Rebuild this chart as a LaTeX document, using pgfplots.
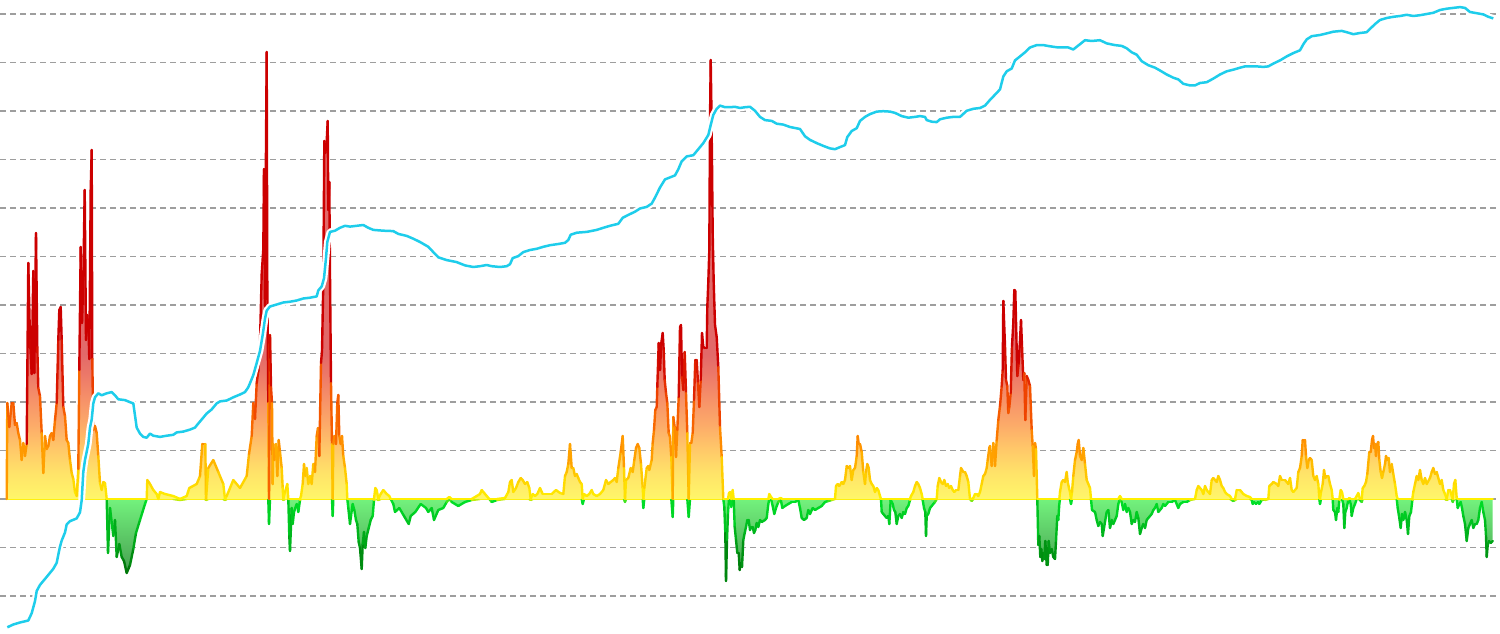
\documentclass[border=0pt]{standalone}
\usepackage{pgfplots}
\usepackage{pgfplotstable}
\pgfplotsset{compat=1.18}

% fill colours above zero (light yellow -> salmon red)
\definecolor{pf0}{RGB}{255,246,105}
\definecolor{pf1}{RGB}{255,228,105}
\definecolor{pf2}{RGB}{255,200,105}
\definecolor{pf3}{RGB}{252,170,105}
\definecolor{pf4}{RGB}{246,145,105}
\definecolor{pf5}{RGB}{236,120,105}
\definecolor{pf6}{RGB}{226,105,105}
% fill colours below zero
\definecolor{nf0}{RGB}{115,242,125}
\definecolor{nf1}{RGB}{65,150,75}
\definecolor{priceline}{RGB}{30,205,235}

% positive part spans 0..447, mapped to 25bp..75bp
\pgfdeclareverticalshading{posfill}{100bp}{color(0bp)=(pf0); color(25bp)=(pf0);
  color(27.80bp)=(pf1); color(30.59bp)=(pf2); color(33.39bp)=(pf3);
  color(36.19bp)=(pf4); color(38.98bp)=(pf5); color(41.22bp)=(pf6);
  color(75bp)=(pf6); color(100bp)=(pf6)}
\pgfdeclareverticalshading{negfill}{100bp}{color(0bp)=(nf1); color(25bp)=(nf1);
  color(75bp)=(nf0); color(100bp)=(nf0)}

\pgfplotsset{colormap={oscmap}{rgb255(0pt)=(0,95,0) rgb255(30pt)=(0,120,10)
  rgb255(60pt)=(0,170,25) rgb255(98pt)=(0,225,40) rgb255(100pt)=(255,240,0)
  rgb255(125pt)=(255,200,0) rgb255(150pt)=(255,150,0) rgb255(175pt)=(250,110,0)
  rgb255(200pt)=(240,70,0) rgb255(225pt)=(220,25,0) rgb255(245pt)=(204,0,0)
  rgb255(550pt)=(204,0,0)}}

\pgfplotstableread{
x h
6.7 0
7.3 96
9.3 72
11.7 96
13.3 96
15 74
16.7 76
18.3 66
20 59
21.7 39
23.3 56
25 43
26.7 55
28.3 236
30 159
31.7 125
33.3 228
34.3 126
36 266
37.3 152
38.3 111
40 103
41.7 66
43.3 26
45 63
46.7 50
48.3 53
50 63
51.7 66
53.3 59
55 79
56.7 96
58.3 159
59.3 189
60.7 192
61.7 159
63.3 92
65 83
66.7 59
68.3 56
70 39
71.7 26
73.3 20
75 7
76.7 3
78.3 30
79.3 129
80.7 252
82 176
83.3 219
84.7 309
86 159
87.3 184
88.7 163
89.3 140
90.7 309
91.7 349
92.3 140
93.3 69
95 73
96.7 66
98.3 43
100 16
101.7 9
103.3 17
105 16
106.7 0
108 -54
110 -9
113.3 -37
115 -21
116.7 -58
119.3 -45
121.7 -58
124 -62
126.7 -74
130 -66
133.3 -50
136 -34
140 -21
145 -5
146.7 0
147.3 19
150 15
153.3 9
156.7 5
158.3 0
160 7
165 5
173.3 3
180 -1
186.7 3
189.3 11
196.7 15
200 23
202.3 55
205.3 55
206 -1
208.3 31
213.3 39
218.3 27
223.3 15
225 -1
226.7 3
233.3 19
240 11
246.7 23
249 45
251.7 63
253.3 96
255 80
256.7 116
258.3 128
260 157
261.7 225
263.3 250
264 330
265 193
265.7 313
266.7 447
267.3 217
268.3 96
269 -25
270 164
271 112
272 96
272.7 15
273.3 55
274.3 39
276 55
277.3 23
278.7 59
280 47
281.7 31
282.7 11
283.3 -1
285 7
287.3 15
288.3 0
289.3 -37
290 -52
291.7 -9
292.7 -25
294 -13
295.3 -9
296.7 -5
298.3 -13
300 -1
301 3
302.7 15
304 35
305.3 23
306.7 31
308.3 15
310 23
311.7 15
313.3 35
315 27
316.7 63
318 71
319.3 43
321 136
322 148
323.3 217
324.3 358
325.3 346
326.7 358
327.7 378
328.3 289
329.3 317
330 225
331 116
332 55
332.7 -17
333.3 55
334.3 63
336 55
337.3 96
338.3 104
339.3 63
340.7 55
342 63
343.3 43
345 31
346.7 15
347.3 0
348.3 -9
350 -25
351 -17
352.7 -5
354.3 -11
356 -21
357.3 -25
358.7 -43
360 -49
361.7 -70
362.7 -45
364 -33
365.3 -49
366.7 -37
368.7 -29
370.7 -21
372.7 -17
374 -1
375.3 11
376.7 9
378.3 -1
380.7 5
383.3 9
386.7 5
389.3 3
390.7 0
393.3 -5
395 -13
399.3 -9
404 -17
408.7 -25
410.7 -17
415.3 -13
420.7 -5
426 -9
428.3 -13
431.7 -9
434 -21
438.3 -11
443.3 -9
446.7 -3
449.3 2
451.7 -3
458.3 -7
465 -3
471.7 -1
480 5
481.7 9
486.7 3
489.3 0
491.7 -3
497 -1
505 1
508.3 7
510 17
511.7 19
513.3 7
516 11
518.3 17
520.7 21
522.7 19
525 15
527.3 17
529.3 11
530.7 -1
532.7 5
535 3
537.3 5
540 11
542.7 5
551.7 5
556 9
560 6
563.3 5
565 23
566.7 27
568.3 35
570 55
571.7 31
573.3 31
575 23
576.7 25
578.3 21
580 17
581.7 15
582.7 -5
584 5
586.7 3
589.3 5
591.7 9
593.3 5
596.7 3
600 5
603.3 9
606 19
608.3 15
610.7 17
613.3 19
615 21
616.7 17
618.3 31
620.7 47
622.7 63
624 31
625 -3
626 19
628.3 21
630.7 31
632.7 27
634.3 39
636 51
637.7 55
639.3 51
641 35
642.7 11
643.3 -9
644.3 11
646.7 31
648.3 33
649.3 29
651.7 39
652.7 56
654 69
655.3 89
656.7 92
657.3 112
658.7 156
660 129
661.3 156
662.7 166
663.7 149
664.7 119
666 106
667.3 96
668.7 66
670 62
671.3 42
672.7 -18
673.3 82
674.7 72
676 42
677.3 69
678.7 102
680 172
681 174
682 122
683.3 109
684.7 147
686 106
687.3 66
688.7 -18
690 56
691.3 56
692.7 66
694 99
695.3 139
696.7 139
698 116
699.3 92
700.7 119
702 166
703.3 152
705 151
706.7 151
707.3 192
708.3 217
709.3 249
710 378
710.7 439
711.3 398
712 338
712.7 265
713.7 217
715 174
716.7 162
718.3 132
720 72
721.7 42
723.3 0
724.3 -8
725.3 -34
726 -82
727 -41
728 -14
729 6
730.3 7
731.3 -8
732.7 9
733.7 0
734.7 -28
736 -41
737.3 -54
738.7 -54
739.7 -71
740.7 -64
742 -68
743.3 -41
744.7 -34
746 -28
747.3 -21
748.7 -21
750 -31
751.3 -28
752.7 -28
754 -34
755.3 -31
756.7 -24
758.3 -28
760 -21
761.7 -23
765 -21
766.7 -19
768.3 -5
769.3 5
771 2
772.7 -7
774.3 -15
776 -9
778.3 -3
780.7 1
782.3 -9
785 -7
788.3 -5
791.7 -3
795 -3
798.3 -1
800 -9
801.7 -19
804 -21
806.7 -19
808.3 -11
810 -15
812.7 -9
815 -11
818.3 -9
821.7 -7
825 -3
828.3 -2
831.7 -1
835 0
836 13
837.7 15
839.3 13
841.7 17
843.3 15
845 19
846.7 33
848.3 31
850 33
851.7 19
853.3 29
855 31
856.7 43
857.7 63
858.7 55
860 55
861.7 47
863.3 27
865 15
866 27
867.3 35
868.7 31
870 19
871.7 15
873.3 13
875 7
876.7 11
878.3 9
880 3
881 0
881.7 -13
883.3 -15
885 -17
886.7 -19
888.3 -17
889.3 -25
890.7 -1
892.7 -5
894 -11
895.3 -13
896.7 -25
898.3 -17
900 -15
901.7 -19
903.3 -13
905 -15
906.7 -9
908.3 -7
910 -1
911 3
913.3 7
915 13
916.7 17
918.3 15
920 11
921.7 5
922.7 -1
924 -9
925.3 -13
926 -37
926.7 -17
928.3 -15
930 -9
931.7 -7
933.3 -5
935 -3
936.7 0
937.7 13
939.3 21
941 17
942.7 15
944.3 19
946 13
947.7 15
949.3 11
951 13
952.7 9
954.3 7
956 9
958.3 9
960 23
961 31
963.3 27
965 27
966.7 23
968.3 17
970 0
971.7 -2
973.3 1
975 5
976.7 5
978.3 3
980 7
981.7 15
983.3 23
985 25
986.7 31
987.7 39
989.3 51
990 53
991.7 33
993.3 56
995 33
996.7 59
998.3 79
1000 93
1001.7 113
1002.7 129
1003.3 198
1005 153
1006 119
1007.3 113
1008.3 86
1009.3 92
1010.7 106
1012 153
1013.3 176
1014.3 209
1015.3 208
1016.3 166
1017.3 123
1018.7 136
1020 159
1021 179
1022 153
1023.3 119
1024.3 126
1025.3 79
1026.7 123
1028.3 119
1030 113
1031.7 69
1032.7 53
1034 23
1035 56
1036 50
1037.3 0
1038.3 -46
1039.3 -37
1040.3 -58
1041.3 -50
1042.3 -62
1043.3 -54
1044.3 -60
1045.3 -42
1046.7 -66
1047.7 -66
1048.7 -42
1050 -54
1051.7 -50
1053.3 -58
1055 -60
1056 -42
1057.3 -17
1058.3 -21
1059.3 -5
1060 7
1061.7 17
1063.3 19
1065 17
1066.7 27
1067.7 17
1069 11
1070 7
1071 -5
1072 7
1073.3 23
1075 39
1076.7 47
1077.7 55
1078.7 59
1080 43
1081.7 39
1083.3 51
1085 35
1086.7 19
1088.3 15
1090 11
1091 0
1092 -11
1095 -13
1096.7 -21
1098.3 -27
1100 -23
1101.7 -25
1102.7 -37
1104 -29
1105.3 -21
1106.7 -13
1108.3 -11
1110 -29
1111.7 -21
1113.3 -25
1115 -21
1116.7 -17
1118.3 -5
1120 3
1121.7 -3
1123.3 -11
1125 -5
1126.7 -13
1128.3 -9
1130 -13
1131.7 -25
1133.3 -21
1135 -23
1136.7 -13
1138.3 -19
1140 -35
1141.7 -29
1143.3 -25
1145 -29
1146.7 -21
1148.3 -19
1150 -17
1151.7 -15
1153.3 -11
1155 -9
1156.7 -5
1158.3 -13
1160 -11
1161.7 -9
1163.3 -5
1165 -7
1168.3 -3
1171.7 -3
1175 -1
1178.3 -9
1180 -5
1183.3 -3
1186.7 -3
1190 -1
1195 0
1196.7 9
1198.3 13
1200 11
1201.7 9
1203.3 5
1205 13
1206.7 9
1208.3 7
1210 5
1211.7 19
1213.3 21
1215 19
1216.7 17
1218.3 23
1220 19
1221.7 13
1223.3 11
1225 7
1226.7 5
1230 3
1231.7 -1
1233.3 -2
1235 -1
1236.7 9
1240 9
1241.7 7
1243.3 5
1246.7 3
1250 2
1251.7 -1
1252.7 -5
1254 -3
1256 -5
1258 -3
1259.3 -5
1261.7 -1
1265 -1
1268.3 0
1269.3 13
1271.7 15
1273.3 17
1276.7 15
1278.3 13
1280 23
1281.7 19
1285 19
1286.7 17
1288.3 15
1290 21
1291.7 9
1293.3 7
1296.7 11
1298.3 27
1300 31
1301.7 43
1302.7 59
1305 59
1306 43
1307.3 31
1308.7 39
1310 41
1311.7 39
1313.3 23
1315 19
1316.7 23
1318.3 15
1319.3 1
1320 -5
1321 7
1322.7 15
1324 29
1325.3 21
1326.7 23
1328.3 23
1330 15
1331.7 9
1332.7 0
1333.3 -11
1335 -13
1336 -21
1337.3 -9
1338.3 -13
1339.3 -1
1340.7 9
1342 7
1343.3 -5
1344.3 -29
1345.3 -13
1346.7 -9
1348.3 -1
1349.3 1
1350.7 -5
1351.7 -17
1353.3 -9
1355 -5
1356.7 3
1358.3 6
1360 -1
1361.7 -3
1362.7 11
1364.3 13
1366 17
1367.3 25
1369.3 47
1370.7 47
1372 59
1373 63
1374 51
1375 55
1376 43
1377.3 55
1378.3 57
1379.3 39
1380.7 27
1382 21
1383.3 27
1385 35
1386 43
1387.3 39
1388.7 41
1390 27
1391.7 35
1393.3 25
1395 15
1396.7 3
1397.7 -9
1399.3 -19
1400.7 -29
1402 -15
1403.3 -21
1405 -13
1406.7 -21
1408 -35
1409.3 -17
1411 -13
1412.3 -1
1413.3 7
1415 15
1416.7 23
1418.3 19
1420 29
1421.7 19
1423.3 15
1425 21
1426.7 15
1430 21
1431.7 27
1433.3 31
1435 25
1436.7 27
1438.3 21
1440 15
1441.7 19
1443.3 9
1445 5
1446.7 -1
1448.3 9
1450 9
1451.7 3
1452.7 -3
1454 15
1455.3 19
1456.7 1
1457.7 -9
1459.3 -5
1460.7 -3
1462 -9
1463.3 -17
1465 -25
1466.7 -42
1468.3 -29
1470 -25
1471.7 -21
1473.3 -29
1475 -25
1476.7 -25
1478.3 -21
1480 -9
1481.7 -3
1483.3 -13
1485 -21
1486 -37
1486.7 -58
1487.7 -46
1489 -42
1490.7 -44
1492.7 -42
}\osc

\pgfplotstableread{
x h
7.3 -128.3
13.3 -125.5
20 -123.5
28.3 -121.5
31.7 -114.2
35 -102.1
36.7 -92
40 -85.9
46.7 -77.9
53.3 -69.8
56.7 -63.8
58.3 -55.7
60 -47.6
61.7 -41.6
65 -33.5
66.7 -25.4
70 -22.2
76.7 -19.4
80 -13.3
81.7 -1.2
83.3 27
85 39.1
86.7 47.2
88.3 55.3
90 71.4
91.7 79.5
93.3 95.6
95 101.7
98.3 105.7
101.7 103.7
106.7 105.7
111.7 106.9
115 103.7
118.3 99.7
125 98.9
130 96.8
133.3 95.6
135 83.5
136.7 71.4
140 65.4
143.3 62.1
146.7 61.3
150 65.4
153.3 63.3
160 62.1
166.7 63.3
173.3 64.2
176.7 66.6
183.3 67.4
190 69.4
195 71.4
198.3 75.5
201.7 79.5
206.7 85.5
211.7 89.6
216.7 95.6
220 97.6
226.7 98.5
233.3 101.7
240 104.5
245 106.9
248.3 111.8
250 115.8
253.3 123.9
256.7 136
260 148.1
262.7 164.2
265 180.4
266.7 188.4
270 192.5
276.7 194.5
283.3 196.5
290 197.3
296.7 198.5
303.3 200.5
310 201.3
316.7 202.6
318.3 208.6
321.7 212.6
324 220.7
326 240.9
327.3 257
330 267.1
335 268.3
340 271.2
345 273.2
350 272.4
356.7 273.2
363.3 274
368.3 271.2
373.3 269.1
383.3 268.3
393.3 267.9
398.3 265.1
406.7 263.1
413.3 260.3
420 257
428.3 252.2
433.3 246.9
438.3 241.7
446.7 238.9
456.7 236.9
465 233.6
473.3 232
480 232.8
486.7 234
491.7 232.8
500 232
506.7 232.8
510 234.8
512.7 240.9
518.3 242.9
523.3 246.9
530 249
536.7 250.2
543.3 252.2
550 253.8
558.3 255
565 256.2
568.3 259
570.7 264.3
576.7 266.3
586.7 267.1
596.7 269.1
603.3 271.2
610 273.2
618.3 275.2
622.7 281.2
628.3 284.1
635 287.3
640 290.5
646.7 292.1
651.7 295.4
655 301.4
660 311.5
665 319.6
670 321.6
675 323.6
678.3 329.7
681.7 337.7
686.7 342.6
693.3 343.8
698.3 349.8
703.3 355.9
708.3 364
710.7 374
713.3 384.1
716.7 390.2
720 393.4
725 391.8
730 391.8
735 392.2
740 391
745 391.8
750 392.2
755 388.2
760 382.1
765 378.9
771.7 378.1
776.7 375.3
783.3 374.4
790 372
800 370
805 362.7
810 359.1
816.7 355.9
823.3 353.1
830 350.6
835 349.8
840 351.9
845 353.9
847.3 361.9
851.7 368
856.7 370.8
860 378.1
865 382.1
870 384.9
876.7 387.4
883.3 387.8
890 387.4
895 386.1
901.7 382.9
908.3 381.3
915 382.1
920 382.9
925 382.1
926.7 378.9
931.7 377.3
936.7 376.9
940 379.7
946.7 381.3
953.3 382.1
960 382.1
966.7 388.2
973.3 390.2
980 391
985 393.4
990 399.1
995 404.3
1000 409.6
1003.3 422.5
1006.7 427.7
1011.7 430.5
1015 438.6
1020 442.6
1025 446.7
1030 451.5
1036.7 453.9
1043.3 453.9
1050 452.7
1058.3 451.5
1068.3 451.5
1073.3 449.5
1078.3 453.5
1085 458.8
1091.7 458
1100 458.8
1106.7 455.6
1115 453.9
1121.7 453.1
1126.7 450.7
1131.7 446.7
1136.7 444.3
1141.7 437.8
1148.3 433.8
1155 431.3
1160 428.5
1166.7 424.5
1173.3 421.3
1178.3 419.6
1183.3 415.2
1190 413.6
1195 413.6
1200 416
1206.7 416.8
1213.3 420.4
1220 424.5
1226.7 427.7
1233.3 429.3
1240 431.3
1245 432.6
1250 432.6
1256.7 432.6
1263.3 432.1
1268.3 432.6
1273.3 435.4
1280 438.6
1286.7 442.6
1293.3 445.9
1300 448.7
1303.3 454.7
1306.7 459.6
1311.7 462.8
1320 464
1326.7 465.6
1333.3 467.3
1341.7 468.1
1346.7 466.8
1353.3 464.8
1360 466
1366.7 466.8
1370 470.1
1375 474.9
1380 479
1386.7 481
1393.3 482.2
1400 483
1406.7 484.2
1413.3 483
1420 483.8
1426.7 485
1433.3 486.2
1440 489
1446.7 490.3
1453.3 491.1
1460 491.9
1465 491.1
1470 487
1476.7 485.8
1483.3 484.6
1488.3 482.2
1493.3 480.6
}\price

\begin{document}
\begin{tikzpicture}
\begin{axis}[
  scale only axis,
  width=750pt, height=316.5pt,
  xmin=0, xmax=1500,
  ymin=-134, ymax=499,
  enlargelimits=false,
  axis line style={draw=none},
  tick style={draw=none},
  xtick=\empty,
  ytick={-97,-48.5,0,48.5,97,145.5,194,242.5,291,339.5,388,436.5,485},
  yticklabel=\empty,
  ymajorgrids,
  grid style={dash pattern=on 3pt off 2pt, color=black!38, line width=0.55pt},
  colormap name=oscmap,
  point meta min=-100, point meta max=450,
]
% filled areas and value-coloured edges
\addplot[draw=none, shade, shading=negfill]
  table[x=x, y expr={min(\thisrow{h},0)}] {\osc} \closedcycle;
\addplot[mesh, point meta=y, line width=1.2pt, line cap=round]
  table[x=x, y expr={min(\thisrow{h},0)}] {\osc};
\addplot[draw=none, shade, shading=posfill]
  table[x=x, y expr={max(\thisrow{h},0)}] {\osc} \closedcycle;
\addplot[mesh, point meta=y, line width=1.2pt, line cap=round]
  table[x=x, y expr={max(\thisrow{h},0)}] {\osc};
% price line with white halo
\addplot[white, line width=3.4pt, line join=round] table[x=x, y=h] {\price};
\addplot[priceline, line width=1.25pt, line join=round] table[x=x, y=h] {\price};
\end{axis}
\pgfresetboundingbox
\path[use as bounding box] (current axis.south west) rectangle (current axis.north east);
\end{tikzpicture}
\end{document}
